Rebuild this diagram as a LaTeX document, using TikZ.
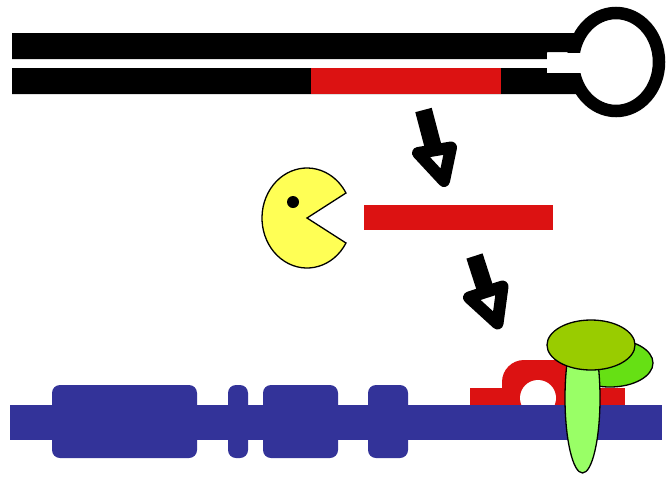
\documentclass[tikz,border=0pt]{standalone}
\usepackage[usenames,dvipsnames]{xcolor}
\usepackage{tikz}
\definecolor{rnared}{RGB}{220,18,18}
\definecolor{dnablue}{RGB}{51,51,153}
\definecolor{pacyellow}{RGB}{255,255,85}
\definecolor{capgreen}{RGB}{153,204,0}
\definecolor{sidegreen}{RGB}{102,224,20}
\definecolor{stalkgreen}{RGB}{153,255,102}

\begin{document}
\begin{tikzpicture}[x=1pt, y=-1pt]
% STYLES
\tikzset{%
    strand/.style={fill=black},
    rna/.style={fill=rnared},
    exon/.style={fill=dnablue, rounded corners=8pt},
    blob/.style={draw=black, line width=1.3pt},
    shaft/.style={draw=black, line width=17pt},
    hollowhead/.style={draw=black, fill=white, line width=12pt, line join=round}
         }
\useasboundingbox (0,0) rectangle (666,477);

% Draw hairpin
\fill[strand] (12,33) -- (578,33) -- (578,52) -- (547,52) -- (547,59) -- (12,59) -- cycle;
\fill[strand] (12,94) -- (578,94) -- (578,73) -- (547,73) -- (547,68) -- (12,68) -- cycle;
\draw[line width=12.5pt] (616,62) ellipse [x radius=43, y radius=49];
\fill[white] (547,52.5) rectangle (586,72.5);
\fill[rna] (311,68) rectangle (501,94);

% Draw processing arrows
\draw[shaft] (423.5,110) -- (433.5,148);
\draw[hollowhead] (418,153) -- (451,147.5) -- (444,181) -- cycle;
\draw[shaft] (474.5,256) -- (485.5,290);
\draw[hollowhead] (469,297.5) -- (502.5,286.5) -- (497.5,323.5) -- cycle;

% Draw dicer and small rna
\filldraw[blob, fill=pacyellow] (307,218) -- +(30:45 and 50)
    arc[start angle=30, end angle=330, x radius=45, y radius=50] -- cycle;
\fill (293,202) circle [radius=6];
\fill[rna] (364,205) rectangle (553,230);

% Draw target bound to the gene
\fill[rna] (470,388) rectangle (625,405);
\fill[rna, rounded corners=22pt] (502,420) -- (502,360) -- (580,360) -- (580,420) -- cycle;
\fill[white] (538,398) circle [radius=18];
\fill[dnablue] (10,405) rectangle (662,440);
\fill[exon] (52,385) rectangle (197,458);
\fill[exon] (228,385) rectangle (248,458);
\fill[exon] (263,385) rectangle (338,458);
\fill[exon] (368,385) rectangle (408,458);

% Draw silencing complex
\filldraw[blob, fill=sidegreen] (610,363) ellipse [x radius=43, y radius=24];
\filldraw[blob, fill=stalkgreen] (582.5,398) ellipse [x radius=17.5, y radius=75];
\filldraw[blob, fill=capgreen] (591,345) ellipse [x radius=44, y radius=25];
\end{tikzpicture}
\end{document}
